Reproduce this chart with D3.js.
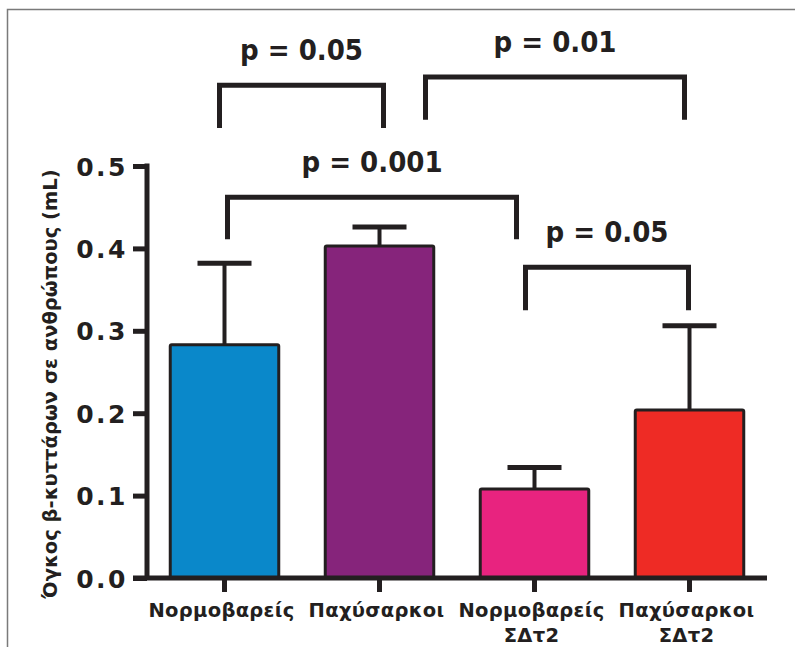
<!DOCTYPE html>
<html>
<head>
<meta charset="utf-8">
<script src="https://cdn.jsdelivr.net/npm/d3@7"></script>
<style>
  body { margin: 0; background: #fff; }
  svg { display: block; }
</style>
</head>
<body>
<div id="chart-area"></div>
<script>
const categories = ["Νορμοβαρείς", "Παχύσαρκοι", "Νορμοβαρείς\nΣΔτ2", "Παχύσαρκοι\nΣΔτ2"];
const means = [0.283, 0.403, 0.108, 0.204];
const upper = [0.382, 0.426, 0.134, 0.306];
const barColors = ["#0a88ca", "#86247b", "#e8237f", "#ee2b25"];
const yTicks = [0.0, 0.1, 0.2, 0.3, 0.4, 0.5];

// significance brackets: which bars, label, bar height and leg end (in data units)
const pairs = [[0, 1], [1, 3], [0, 2], [2, 3]];
const pLabels = ["p = 0.05", "p = 0.01", "p = 0.001", "p = 0.05"];
const bracketTop = [0.598, 0.608, 0.462, 0.377];
const bracketLeg = [0.546, 0.556, 0.411, 0.325];

const renderChart = () => {
    const w = 795;
    const h = 647;
    // horizontal nudges of bracket legs away from bar centres
    const legShift = [[-5, 4], [46, -5], [3, -18], [-9, -1]];

    const svg = d3.select("#chart-area")
        .append("svg")
        .attr("width", w)
        .attr("height", h);

    // frame lines
    svg.append("path")
        .attr("d", "M7.5,647 V9.5 H795")
        .attr("fill", "none")
        .attr("stroke", "#7a7a7a")
        .attr("stroke-width", 1.5);

    const xScale = d3.scaleBand()
        .domain(d3.range(categories.length))
        .range([147, 767])
        .paddingInner(0.3)
        .paddingOuter(0.15);

    const yScale = d3.scaleLinear()
        .domain([0, 0.5])
        .range([578, 166]);

    const ink = "#231f20";
    const cx = i => xScale(i) + xScale.bandwidth() / 2;

    // error bars (upper only)
    const err = svg.append("g");
    err.selectAll("line.stem")
        .data(means)
        .enter()
        .append("line")
        .attr("x1", (d, i) => cx(i))
        .attr("x2", (d, i) => cx(i))
        .attr("y1", d => yScale(d))
        .attr("y2", (d, i) => yScale(upper[i]))
        .attr("stroke", ink)
        .attr("stroke-width", 4);
    err.selectAll("line.cap")
        .data(upper)
        .enter()
        .append("line")
        .attr("x1", (d, i) => cx(i) - 27)
        .attr("x2", (d, i) => cx(i) + 27)
        .attr("y1", d => yScale(d))
        .attr("y2", d => yScale(d))
        .attr("stroke", ink)
        .attr("stroke-width", 5);

    svg.selectAll("rect.bar")
        .data(means)
        .enter()
        .append("rect")
        .attr("class", "bar")
        .attr("x", (d, i) => xScale(i))
        .attr("y", d => yScale(d))
        .attr("width", xScale.bandwidth())
        .attr("height", d => yScale(0) - yScale(d))
        .attr("fill", (d, i) => barColors[i])
        .attr("stroke", ink)
        .attr("stroke-width", 3)
        .attr("rx", 1.5);

    // y axis
    const yAxis = d3.axisLeft(yScale)
        .tickValues(yTicks)
        .tickFormat(d3.format(".1f"))
        .tickSize(14)
        .tickPadding(5);

    const gy = svg.append("g")
        .attr("transform", "translate(147,0)")
        .call(yAxis);
    gy.select(".domain").remove();
    gy.append("line")
        .attr("x1", 0).attr("x2", 0)
        .attr("y1", yScale(0.5) - 2.5).attr("y2", yScale(0) + 2)
        .attr("stroke", ink).attr("stroke-width", 5);
    gy.selectAll(".tick line").attr("stroke", ink).attr("stroke-width", 5);
    gy.selectAll(".tick text")
        .attr("fill", ink)
        .style("font-family", "'DejaVu Sans'")
        .style("font-weight", "bold")
        .style("font-size", "25px")
        .style("letter-spacing", "2.5px")
        .attr("dy", "0.36em");

    // x axis
    const xAxis = d3.axisBottom(xScale)
        .tickSize(14)
        .tickFormat("");
    const gx = svg.append("g")
        .attr("transform", "translate(0,578)")
        .call(xAxis);
    gx.select(".domain").remove();
    gx.append("line")
        .attr("x1", 133).attr("x2", 767)
        .attr("y1", 0).attr("y2", 0)
        .attr("stroke", ink).attr("stroke-width", 5);
    gx.selectAll(".tick line").attr("stroke", ink).attr("stroke-width", 5);

    const xl = svg.append("g")
        .style("font-family", "'DejaVu Sans'")
        .style("font-weight", "bold")
        .style("font-size", "19.5px")
        .style("letter-spacing", "0.3px")
        .attr("fill", ink)
        .attr("text-anchor", "middle");
    categories.forEach((c, i) => {
        const t = xl.append("text")
            .attr("x", cx(i) - 3)
            .attr("y", 617);
        c.split("\n").forEach((line, k) => {
            t.append("tspan")
                .attr("x", cx(i) - 3)
                .attr("dy", k === 0 ? 0 : 25)
                .text(line);
        });
    });

    svg.append("text")
        .attr("transform", "translate(57,384) rotate(-90)")
        .attr("text-anchor", "middle")
        .attr("fill", ink)
        .style("font-family", "'DejaVu Sans'")
        .style("font-weight", "bold")
        .style("font-size", "19.5px")
        .text("Όγκος β-κυττάρων σε ανθρώπους (mL)");

    // significance brackets
    const br = svg.append("g");
    pairs.forEach((p, i) => {
        const x1 = cx(p[0]) + legShift[i][0];
        const x2 = cx(p[1]) + legShift[i][1];
        const yt = yScale(bracketTop[i]);
        const yb = yScale(bracketLeg[i]);
        br.append("path")
            .attr("d", `M${x1},${yb} V${yt} H${x2} V${yb}`)
            .attr("fill", "none")
            .attr("stroke", ink)
            .attr("stroke-width", 5)
            .attr("stroke-linejoin", "miter");
        br.append("text")
            .attr("x", (x1 + x2) / 2)
            .attr("y", yt - 25)
            .attr("text-anchor", "middle")
            .attr("fill", ink)
            .style("font-family", "'DejaVu Sans Condensed', 'DejaVu Sans'")
            .style("font-weight", "bold")
            .style("font-size", "29px")
            .text(pLabels[i]);
    });
}

renderChart();
</script>
</body>
</html>
